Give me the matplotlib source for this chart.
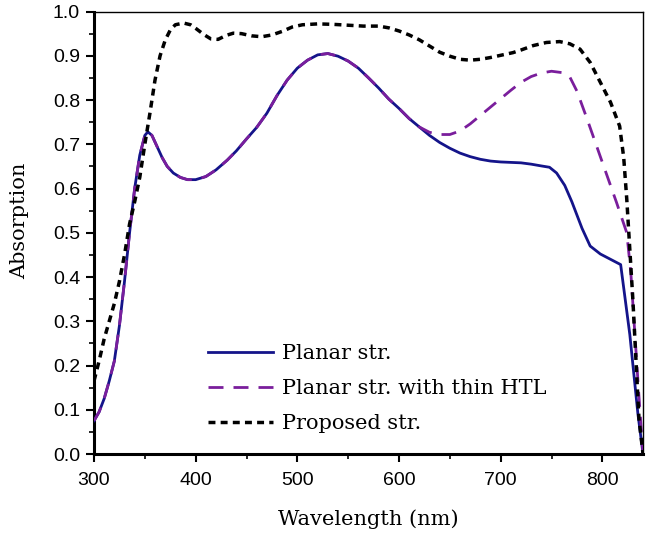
#!/usr/bin/env python3
"""Absorption spectra of the planar / thin-HTL / proposed structures."""

import matplotlib
matplotlib.use("Agg")
import matplotlib.pyplot as plt
from matplotlib.ticker import MultipleLocator, FormatStrFormatter

# Planar str. (solid navy)
wl_planar = [300, 305, 310, 315, 320, 325, 330, 335, 340, 345, 350, 353, 357,
             362, 367, 372, 378, 385, 392, 400, 410, 420, 431, 440, 450, 460,
             470, 480, 490, 500, 510, 520, 530, 540, 550, 560, 570, 580, 590,
             600, 610, 620, 630, 640, 650, 660, 670, 680, 690, 700, 710, 720,
             730, 740, 748, 755, 763, 770, 775, 780, 788, 798, 808, 818, 827,
             835, 840]
abs_planar = [0.075, 0.095, 0.125, 0.165, 0.21, 0.29, 0.39, 0.50, 0.60, 0.675,
              0.72, 0.728, 0.72, 0.695, 0.67, 0.65, 0.635, 0.625, 0.62, 0.62,
              0.627, 0.642, 0.664, 0.685, 0.712, 0.738, 0.77, 0.81, 0.845,
              0.872, 0.89, 0.902, 0.905, 0.899, 0.888, 0.872, 0.85, 0.827,
              0.802, 0.781, 0.758, 0.739, 0.72, 0.704, 0.691, 0.68, 0.672,
              0.666, 0.662, 0.66, 0.659, 0.658, 0.655, 0.651, 0.648, 0.635,
              0.607, 0.57, 0.54, 0.51, 0.47, 0.452, 0.44, 0.428, 0.27, 0.09,
              0.0]

# Planar str. with thin HTL (purple dashed) - same as planar up to ~620 nm
wl_thin = [300, 305, 310, 315, 320, 325, 330, 335, 340, 345, 350, 353, 357,
           362, 367, 372, 378, 385, 392, 400, 410, 420, 431, 440, 450, 460,
           470, 480, 490, 500, 510, 520, 530, 540, 550, 560, 570, 580, 590,
           600, 610, 620, 630, 640, 650, 660, 670, 680, 690, 700, 710, 720,
           730, 740, 750, 760, 768, 775, 785, 800, 814, 824, 828, 832, 836,
           840]
abs_thin = [0.075, 0.095, 0.125, 0.165, 0.21, 0.29, 0.39, 0.50, 0.60, 0.675,
            0.72, 0.728, 0.72, 0.695, 0.67, 0.65, 0.635, 0.625, 0.62, 0.62,
            0.627, 0.642, 0.664, 0.685, 0.712, 0.738, 0.77, 0.81, 0.845,
            0.872, 0.89, 0.902, 0.905, 0.899, 0.888, 0.872, 0.85, 0.827,
            0.802, 0.781, 0.758, 0.739, 0.727, 0.722, 0.722, 0.73, 0.746,
            0.765, 0.784, 0.803, 0.822, 0.84, 0.853, 0.861, 0.865, 0.862,
            0.852, 0.82, 0.757, 0.659, 0.568, 0.50, 0.41, 0.27, 0.13, 0.0]

# Proposed str. (black dotted)
wl_prop = [300, 305, 310, 315, 320, 325, 330, 335, 340, 345, 350, 355, 360,
           365, 370, 375, 380, 388, 395, 400, 408, 415, 422, 430, 437, 445,
           455, 465, 475, 485, 495, 505, 520, 535, 550, 565, 580, 590, 600,
           610, 620, 630, 640, 650, 660, 670, 680, 690, 700, 712, 720, 732,
           745, 758, 768, 778, 788, 798, 808, 817, 821, 824, 830, 836, 840]
abs_prop = [0.165, 0.21, 0.26, 0.30, 0.34, 0.39, 0.45, 0.52, 0.57, 0.625,
            0.70, 0.77, 0.845, 0.90, 0.935, 0.958, 0.97, 0.974, 0.97, 0.962,
            0.948, 0.938, 0.937, 0.946, 0.951, 0.95, 0.945, 0.943, 0.947,
            0.955, 0.965, 0.970, 0.972, 0.971, 0.969, 0.967, 0.967, 0.963,
            0.956, 0.947, 0.936, 0.922, 0.908, 0.899, 0.892, 0.89, 0.892,
            0.896, 0.901, 0.907, 0.913, 0.923, 0.93, 0.932, 0.927, 0.915,
            0.885, 0.84, 0.795, 0.741, 0.67, 0.576, 0.349, 0.08, 0.0]

labels = ["Planar str.", "Planar str. with thin HTL", "Proposed str."]

SERIF = ["DejaVu Serif"]
SANS = ["Liberation Sans", "DejaVu Sans"]

fig = plt.figure(figsize=(6.46, 5.35), dpi=100)
ax = fig.add_axes([0.1455, 0.1514, 0.8499, 0.8271])

ax.plot(wl_planar, abs_planar, color="#14148a", linewidth=2.0,
        label=labels[0], zorder=3)
ax.plot(wl_thin, abs_thin, color="#7a1e9c", linewidth=2.0,
        dashes=(5.4, 3.6), label=labels[1], zorder=4)
ax.plot(wl_prop, abs_prop, color="black", linewidth=2.5,
        dashes=(2.0, 1.5), label=labels[2], zorder=5)

ax.set_xlim(300, 840)
ax.set_ylim(0.0, 1.0)
ax.xaxis.set_major_locator(MultipleLocator(100))
ax.xaxis.set_minor_locator(MultipleLocator(50))
ax.yaxis.set_major_locator(MultipleLocator(0.1))
ax.yaxis.set_minor_locator(MultipleLocator(0.05))
ax.yaxis.set_major_formatter(FormatStrFormatter("%.1f"))

ax.tick_params(which="major", direction="out", length=6, width=1.5,
               labelsize=14)
ax.tick_params(axis="x", which="major", pad=7)
ax.tick_params(axis="y", which="major", pad=4)
ax.tick_params(which="minor", direction="out", length=3.5, width=1.2)
for lab in ax.get_xticklabels() + ax.get_yticklabels():
    lab.set_family(SANS)

ax.spines["left"].set_linewidth(2.2)
ax.spines["bottom"].set_linewidth(2.2)
ax.spines["top"].set_linewidth(1.0)
ax.spines["right"].set_linewidth(1.0)

ax.set_xlabel("Wavelength (nm)", family=SERIF, fontsize=15)
ax.set_ylabel("Absorption", family=SERIF, fontsize=15)
ax.xaxis.set_label_coords(0.5, -0.125)
ax.yaxis.set_label_coords(-0.118, 0.527)

leg = ax.legend(loc="upper left", bbox_to_anchor=(0.2077, 0.249),
                frameon=False, prop={"family": SERIF, "size": 15},
                handlelength=3.1, handletextpad=0.45, labelspacing=0.77,
                borderpad=0.0, borderaxespad=0.0)

fig.savefig("out.png", dpi=100)
